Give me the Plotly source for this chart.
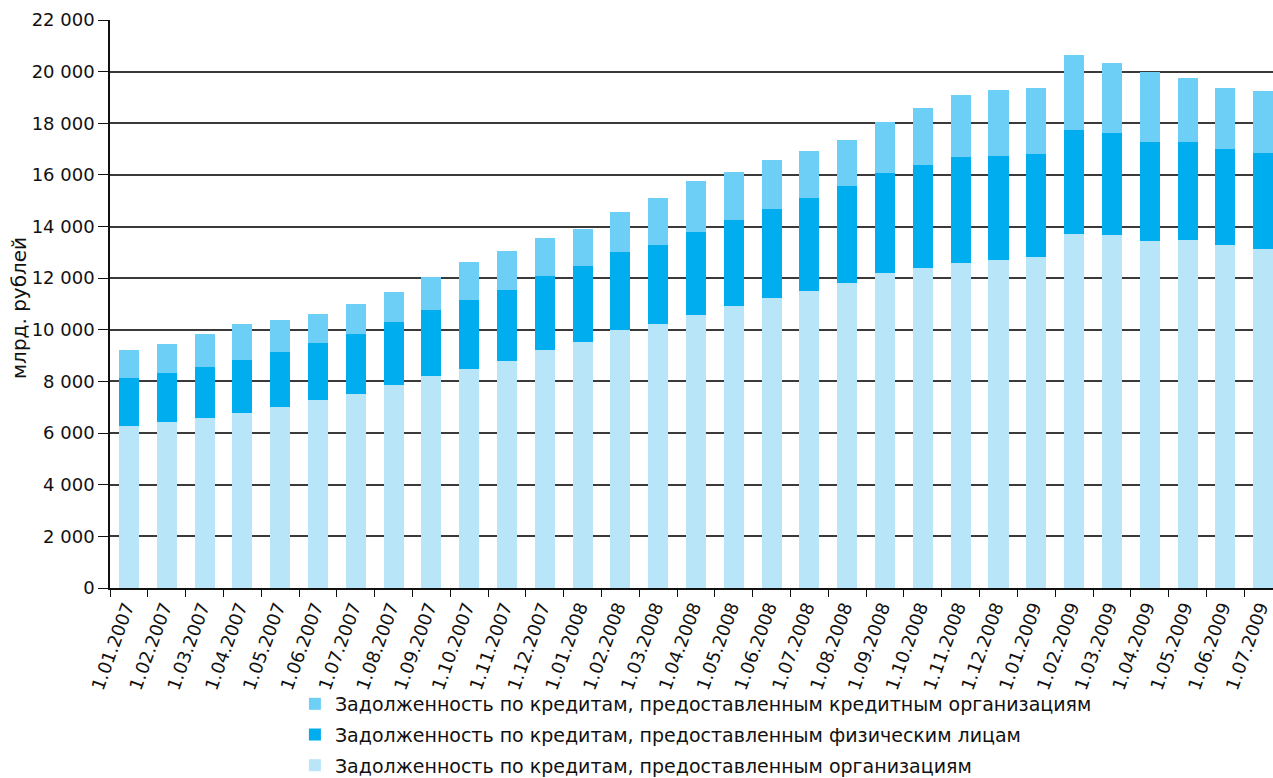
import plotly.graph_objects as go

dates = ["1.01.2007", "1.02.2007", "1.03.2007", "1.04.2007", "1.05.2007", "1.06.2007",
         "1.07.2007", "1.08.2007", "1.09.2007", "1.10.2007", "1.11.2007", "1.12.2007",
         "1.01.2008", "1.02.2008", "1.03.2008", "1.04.2008", "1.05.2008", "1.06.2008",
         "1.07.2008", "1.08.2008", "1.09.2008", "1.10.2008", "1.11.2008", "1.12.2008",
         "1.01.2009", "1.02.2009", "1.03.2009", "1.04.2009", "1.05.2009", "1.06.2009",
         "1.07.2009"]

# Задолженность по кредитам, предоставленным организациям
org = [6280, 6430, 6590, 6780, 7020, 7290, 7520, 7870, 8220, 8490, 8800, 9220,
       9530, 10000, 10230, 10580, 10930, 11240, 11510, 11820, 12210, 12400, 12600, 12710,
       12830, 13720, 13680, 13450, 13490, 13290, 13140]
# Задолженность по кредитам, предоставленным физическим лицам
fiz = [1860, 1900, 1980, 2060, 2130, 2210, 2320, 2440, 2560, 2670, 2750, 2870,
       2950, 3020, 3060, 3220, 3330, 3450, 3610, 3760, 3880, 4000, 4110, 4030,
       3990, 4030, 3960, 3840, 3800, 3730, 3720]
# Задолженность по кредитам, предоставленным кредитным организациям
kred = [1080, 1130, 1270, 1390, 1240, 1120, 1160, 1160, 1270, 1480, 1510, 1480,
        1430, 1550, 1830, 1980, 1860, 1900, 1820, 1780, 1970, 2200, 2400, 2560,
        2560, 2910, 2710, 2710, 2480, 2360, 2400]

names = ["Задолженность по кредитам, предоставленным организациям",
         "Задолженность по кредитам, предоставленным физическим лицам",
         "Задолженность по кредитам, предоставленным кредитным организациям"]
colors = ["#B9E5F9", "#00AEEF", "#6DCFF6"]
ranks = [3, 2, 1]

fig = go.Figure()
for i, (vals, nm, col) in enumerate(zip([org, fiz, kred], names, colors)):
    fig.add_trace(go.Bar(x=dates, y=vals, name=nm, legendgroup=f"g{i}", legendrank=ranks[i],
                         marker=dict(color=col, line=dict(width=0))))

font = "DejaVu Sans, Liberation Sans, sans-serif"
fig.update_layout(
    barmode="stack",
    bargap=0.47,
    width=1273, height=778,
    margin=dict(l=110, r=0, t=20, b=190, autoexpand=False),
    paper_bgcolor="white", plot_bgcolor="white",
    separators=", ",
    font=dict(family=font, color="#111", size=17),
    showlegend=True,
    legend=dict(traceorder="grouped", orientation="v", x=0.159, xanchor="left",
                y=-0.1707, yanchor="top", font=dict(family=font, size=19),
                tracegroupgap=3, itemwidth=30, bgcolor="rgba(0,0,0,0)"),
    xaxis=dict(type="category", range=[-0.5, 30.26], tickangle=-70, tickson="boundaries",
               ticks="outside", ticklen=7, tickcolor="#111", showline=True, linecolor="#111",
               linewidth=1.5, tickfont=dict(size=18, family=font), showgrid=False,
               automargin=False, ticklabelshift=-3),
    yaxis=dict(range=[0, 22000], dtick=2000, tickformat=",d", ticks="outside", ticklen=10,
               tickcolor="#111", showline=True, linecolor="#111", linewidth=1.5,
               showgrid=True, gridcolor="#3a3a3a", gridwidth=1.5, zeroline=False,
               tickfont=dict(size=18, family=font), automargin=False),
    annotations=[dict(text="млрд. рублей", textangle=-90, xref="paper", yref="paper",
                      x=0, y=0.493, xanchor="center", yanchor="middle", xshift=-91,
                      showarrow=False, font=dict(size=20, family=font, color="#111"))],
)

fig.write_html("out.html", config={"displayModeBar": False},
               post_script="document.body.style.margin='0px';document.body.style.overflow='hidden';")
